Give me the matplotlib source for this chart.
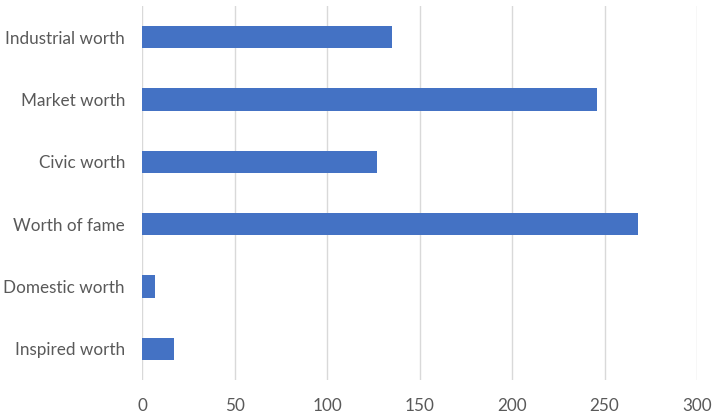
import matplotlib
matplotlib.use("Agg")
import matplotlib.pyplot as plt

categories = ["Industrial worth", "Market worth", "Civic worth", "Worth of fame", "Domestic worth", "Inspired worth"]
values = [135, 246, 127, 268, 7, 17]
xticks = [0, 50, 100, 150, 200, 250, 300]

plt.rcParams['font.family'] = ['Lato', 'DejaVu Sans']
fig = plt.figure(figsize=(7.15, 4.17), dpi=100)
ax = fig.add_axes([142.3/715, 1-380/417, (697-142.3)/715, 374/417])

n = len(categories)
ypos = list(range(n))[::-1]
ax.barh(ypos, values, height=0.355, color="#4472C4", zorder=3)
ax.set_xlim(0, 300)
ax.set_ylim(-0.5, n-0.5)
ax.set_xticks(xticks)
ax.set_xticklabels([str(t) for t in xticks])
ax.set_yticks(ypos)
ax.set_yticklabels(categories)
ax.grid(axis='x', color="#d9d9d9", linewidth=1, zorder=0)
for s in ax.spines.values():
    s.set_visible(False)
ax.tick_params(axis='both', length=0, labelsize=12.3, labelcolor="#595959")
ax.tick_params(axis='x', pad=13)
ax.tick_params(axis='y', pad=12.5)
fig.savefig("out.png", dpi=100, facecolor="white")
